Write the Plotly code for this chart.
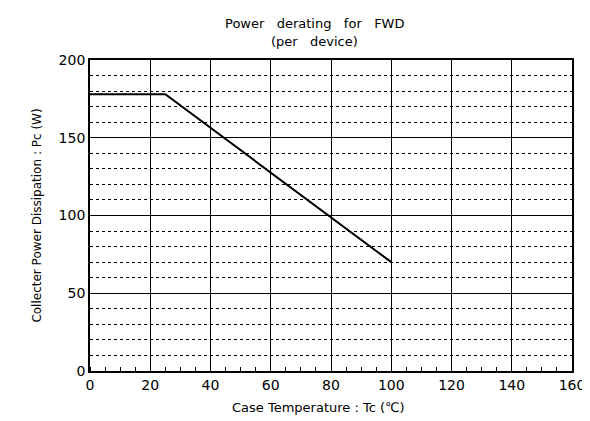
import plotly.graph_objects as go

# Data
case_temp_c = [0, 25, 100]
power_w = [178, 178, 70]

x_ticks = [0, 20, 40, 60, 80, 100, 120, 140, 160]
y_ticks = [0, 50, 100, 150, 200]

NB = "\u00a0"
title_line1 = f"Power{NB*3}derating{NB*3}for{NB*3}FWD"
title_line2 = f"(per{NB*3}device)"
x_title = "Case Temperature : Tc (℃)"
y_title = "Collecter Power Dissipation : Pc (W)"

font_family = "DejaVu Sans"

fig = go.Figure()
fig.add_trace(go.Scatter(
    x=case_temp_c, y=power_w, mode="lines",
    line=dict(color="black", width=2),
    showlegend=False, hoverinfo="skip",
))

fig.update_layout(
    width=590, height=421,
    margin=dict(l=82, r=26, t=52, b=58),
    paper_bgcolor="white", plot_bgcolor="white",
    font=dict(family=font_family, color="black", size=12),
)

# Title lines and x-axis title as annotations for exact placement
fig.add_annotation(text=title_line1, xref="paper", yref="paper", x=0.465, y=1.0,
                   yshift=37, showarrow=False, xanchor="center", yanchor="middle",
                   font=dict(size=13, family=font_family, color="black"))
fig.add_annotation(text=title_line2, xref="paper", yref="paper", x=0.465, y=1.0,
                   yshift=19, showarrow=False, xanchor="center", yanchor="middle",
                   font=dict(size=13, family=font_family, color="black"))
fig.add_annotation(text=x_title, xref="paper", yref="paper", x=0.475, y=0.0,
                   yshift=-36, showarrow=False, xanchor="center", yanchor="middle",
                   font=dict(size=13, family=font_family, color="black"))

fig.update_xaxes(
    range=[0, 160], tickvals=x_ticks, ticktext=[str(v) for v in x_ticks],
    showgrid=True, gridcolor="black", gridwidth=1.3,
    showline=True, linecolor="black", linewidth=1.8, mirror=True,
    ticks="", zeroline=False,
    minor=dict(dtick=5, ticks="inside", ticklen=4, tickcolor="black", showgrid=False),
    tickfont=dict(size=14, family=font_family),
)

fig.update_yaxes(
    range=[0, 200], tickvals=y_ticks, ticktext=[str(v) for v in y_ticks],
    showgrid=True, gridcolor="black", gridwidth=1.3,
    showline=True, linecolor="black", linewidth=1.8, mirror=True,
    ticks="", zeroline=False,
    minor=dict(dtick=10, showgrid=True, gridcolor="black", griddash="dot", gridwidth=1),
    tickfont=dict(size=14, family=font_family),
    title=dict(text=y_title, font=dict(size=12, family=font_family), standoff=14),
)

fig.write_html("out.html")
